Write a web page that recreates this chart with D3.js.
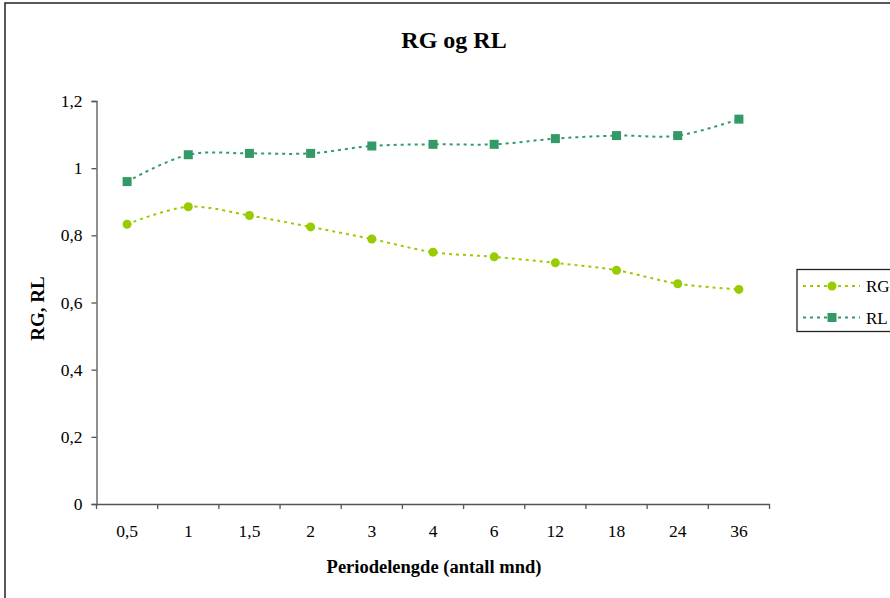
<!DOCTYPE html>
<html><head><meta charset="utf-8">
<script src="https://cdn.jsdelivr.net/npm/d3@7"></script>
<style>html,body{margin:0;padding:0;background:#fff;} svg{display:block;} text{font-family:"Liberation Serif","Times New Roman",serif;}</style>
</head><body>
<svg id="c" width="890" height="598"></svg>
<script>
const categories = ["0,5","1","1,5","2","3","4","6","12","18","24","36"];
const rgValues = [0.833,0.885,0.859,0.825,0.789,0.750,0.736,0.718,0.696,0.656,0.639];
const rlValues = [0.960,1.040,1.044,1.044,1.066,1.071,1.071,1.088,1.097,1.097,1.146];
const yTicks = [0,0.2,0.4,0.6,0.8,1,1.2];
const seriesNames = ["RG","RL"];

(function(){
const svg = d3.select("#c");
const F = "\"Liberation Serif\",\"Times New Roman\",serif";
// outer frame
svg.append("rect").attr("x",5).attr("y",3).attr("width",1000).attr("height",1000)
  .attr("fill","none").attr("stroke","#222").attr("stroke-width",1.5);

const pL=96.5, pR=769.5, pT=101, pB=504;
const x = d3.scaleBand().domain(categories).range([pL,pR]);
const y = d3.scaleLinear().domain([0,1.2]).range([pB,pT]);

svg.append("text").attr("x",454).attr("y",48).attr("text-anchor","middle")
  .style("font-family",F).attr("font-weight","bold").attr("font-size",24).text("RG og RL");

// y axis
const yAxis = svg.append("g").attr("transform",`translate(${pL},0)`)
  .call(d3.axisLeft(y).tickValues(yTicks).tickSize(5).tickPadding(9)
    .tickFormat(d=>String(d).replace(".",",")));
yAxis.selectAll("path,line").attr("stroke","#555").attr("stroke-width",1.3);
yAxis.selectAll("text").style("font-family",F).attr("font-size",17.5).attr("fill","#000");

// x axis
const xAxis = svg.append("g").attr("transform",`translate(0,${pB})`)
  .call(d3.axisBottom(x).tickSize(0).tickPadding(21));
xAxis.select("path").attr("stroke","#555").attr("stroke-width",1.3);
xAxis.selectAll("text").style("font-family",F).attr("font-size",17.5).attr("fill","#000");
const bounds = categories.map(c=>x(c)).concat([x(categories[categories.length-1])+x.bandwidth()]);
xAxis.selectAll("line.sep").data(bounds).enter().append("line").attr("class","sep")
  .attr("x1",d=>d).attr("x2",d=>d).attr("y1",0).attr("y2",5)
  .attr("stroke","#555").attr("stroke-width",1.3);

svg.append("text").attr("transform",`translate(44,${(pT+pB)/2+6}) rotate(-90)`)
  .attr("text-anchor","middle").style("font-family",F).attr("font-weight","bold")
  .attr("font-size",19).text("RG, RL");
svg.append("text").attr("x",434).attr("y",573).attr("text-anchor","middle")
  .style("font-family",F).attr("font-weight","bold").attr("font-size",18.5)
  .text("Periodelengde (antall mnd)");

const cx = c => x(c)+x.bandwidth()/2;
const line = d3.line().x((d,i)=>cx(categories[i])).y(d=>y(d)).curve(d3.curveCatmullRom.alpha(0.5));
const colRG="#99CC00", colRL="#339966";

svg.append("path").datum(rgValues).attr("d",line).attr("fill","none")
  .attr("stroke",colRG).attr("stroke-width",2).attr("stroke-dasharray","3,4");
svg.append("path").datum(rlValues).attr("d",line).attr("fill","none")
  .attr("stroke",colRL).attr("stroke-width",2).attr("stroke-dasharray","3,4");

svg.selectAll("circle.rg").data(rgValues).enter().append("circle").attr("class","rg")
  .attr("cx",(d,i)=>cx(categories[i])).attr("cy",d=>y(d)).attr("r",4.5).attr("fill",colRG);
svg.selectAll("rect.rl").data(rlValues).enter().append("rect").attr("class","rl")
  .attr("x",(d,i)=>cx(categories[i])-4.5).attr("y",d=>y(d)-4.5).attr("width",9).attr("height",9).attr("fill",colRL);

// legend
const lg = svg.append("g");
lg.append("rect").attr("x",797).attr("y",269.5).attr("width",120).attr("height",62)
  .attr("fill","#fff").attr("stroke","#222").attr("stroke-width",1.3);
const items=[{n:seriesNames[0],c:colRG,y:286,shape:"circle"},{n:seriesNames[1],c:colRL,y:317.5,shape:"rect"}];
items.forEach(it=>{
  lg.append("line").attr("x1",803).attr("x2",860).attr("y1",it.y).attr("y2",it.y)
    .attr("stroke",it.c).attr("stroke-width",2).attr("stroke-dasharray","3,4");
  if(it.shape==="circle") lg.append("circle").attr("cx",832).attr("cy",it.y).attr("r",4.5).attr("fill",it.c);
  else lg.append("rect").attr("x",827.5).attr("y",it.y-4.5).attr("width",9).attr("height",9).attr("fill",it.c);
  lg.append("text").attr("x",866).attr("y",it.y+6).style("font-family",F).attr("font-size",17).text(it.n);
});
})();
</script>
</body></html>
